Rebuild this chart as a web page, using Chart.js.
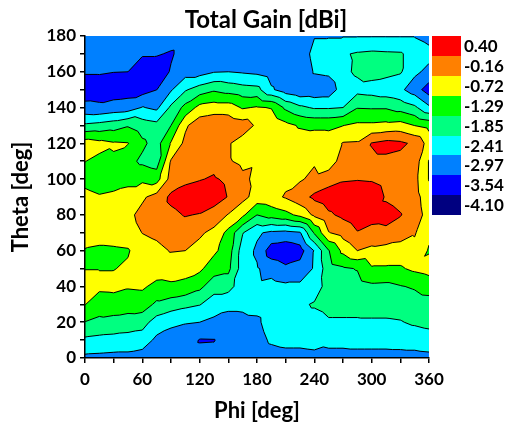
<!DOCTYPE html>
<html>
<head>
<meta charset="utf-8">
<script src="https://cdn.jsdelivr.net/npm/chart.js@4"></script>
<style>
html,body{margin:0;padding:0;background:#fff;}
#wrap{width:508px;height:425px;}
canvas{display:block;}
</style>
</head>
<body>
<div id="wrap"><canvas id="c" width="508" height="425"></canvas></div>
<script>
// ---- data (gain in dBi, rows = theta, columns = phi) ----
const phiValues = [0,15,30,45,60,75,90,105,120,135,150,165,180,195,210,225,240,255,270,285,300,315,330,345,360];
const thetaValues = [0,10,20,30,40,50,60,70,80,90,100,110,120,130,140,150,160,170,180];
const gainRows = [
  [-2.53,-2.55,-2.58,-2.58,-2.67,-2.86,-2.81,-2.78,-2.81,-2.81,-2.86,-2.86,-2.86,-2.75,-2.69,-2.69,-2.64,-2.58,-2.58,-2.58,-2.58,-2.58,-2.58,-2.58,-2.55],
  [-1.96,-2.02,-2.05,-2.08,-2.13,-2.53,-2.64,-2.69,-3.00,-2.99,-2.75,-2.75,-2.69,-2.30,-2.19,-2.19,-2.13,-2.27,-2.27,-2.24,-2.24,-2.24,-2.22,-2.19,-2.13],
  [-1.30,-1.40,-1.46,-1.54,-1.63,-2.10,-2.30,-2.38,-2.41,-2.53,-2.58,-2.55,-2.53,-2.10,-2.08,-2.08,-2.08,-1.91,-1.91,-1.91,-1.91,-1.91,-1.88,-1.77,-1.68],
  [-0.70,-1.06,-1.01,-1.03,-1.01,-1.40,-1.57,-1.71,-1.82,-2.13,-2.30,-2.30,-2.19,-2.08,-2.10,-1.96,-1.79,-1.68,-1.68,-1.68,-1.65,-1.65,-1.63,-1.54,-1.51],
  [-0.44,-0.58,-0.56,-0.67,-0.64,-0.87,-0.81,-0.89,-1.15,-1.63,-1.63,-2.19,-2.30,-2.22,-2.30,-2.30,-2.19,-1.57,-1.54,-1.51,-1.40,-1.43,-1.32,-1.23,-1.06],
  [-0.74,-0.74,-0.74,-0.64,-0.50,-0.44,-0.47,-0.50,-0.61,-1.03,-1.15,-2.13,-2.36,-2.64,-2.86,-2.75,-2.36,-1.51,-1.37,-1.26,-0.78,-0.78,-0.78,-0.61,-0.50],
  [-0.78,-0.84,-0.81,-0.77,-0.39,-0.30,-0.13,-0.16,-0.33,-0.61,-1.01,-2.13,-2.50,-3.26,-3.37,-3.20,-2.38,-1.32,-0.58,-0.16,-0.30,-0.39,-0.44,-0.33,-0.77],
  [-0.28,-0.44,-0.44,-0.39,-0.15,-0.05,0.12,0.12,-0.08,-0.30,-0.89,-1.82,-2.33,-2.53,-2.58,-2.47,-1.23,-0.19,0.06,0.37,0.23,0.29,0.12,-0.11,-0.61],
  [-0.33,-0.39,-0.39,-0.30,0.01,0.12,0.29,0.43,0.37,0.15,-0.19,-0.61,-1.29,-1.06,-0.89,-0.58,-0.05,0.32,0.51,0.68,0.60,0.57,0.43,0.12,-0.39],
  [-0.56,-0.67,-0.61,-0.56,-0.25,0.06,0.51,0.63,0.74,0.68,0.37,0.01,-0.39,-0.33,-0.11,0.18,0.51,0.68,0.74,0.79,0.79,0.34,0.23,0.06,-0.50],
  [-0.89,-1.01,-0.95,-0.84,-0.84,-0.95,0.06,0.29,0.37,0.46,0.29,-0.05,-0.28,-0.25,-0.28,-0.22,-0.02,0.18,0.34,0.37,0.34,0.18,0.06,0.01,-0.75],
  [-0.71,-0.84,-0.78,-1.12,-1.40,-1.57,-0.11,0.06,0.20,0.23,-0.11,-0.28,-0.22,-0.22,-0.33,-0.33,-0.22,-0.50,0.12,0.15,0.29,0.29,0.23,0.12,-0.75],
  [-0.44,-0.56,-0.67,-0.70,-1.18,-1.51,-0.67,-0.02,0.18,0.20,-0.11,-0.39,-0.19,-0.22,-0.39,-0.44,-0.39,-0.44,-0.13,-0.11,0.43,0.57,0.51,0.29,-0.39],
  [-1.74,-1.66,-1.54,-1.34,-1.57,-1.68,-1.29,-0.25,0.18,0.29,0.23,0.12,-0.25,-0.28,-0.56,-0.78,-0.84,-0.84,-0.73,-0.61,-0.61,-0.56,-0.50,-0.73,-0.89],
  [-2.81,-2.86,-2.75,-2.69,-2.38,-2.53,-1.74,-1.12,-0.54,-0.44,-0.44,-0.78,-0.67,-0.75,-1.40,-1.74,-1.91,-1.91,-1.85,-1.32,-1.34,-1.34,-1.51,-1.74,-2.30],
  [-3.26,-3.24,-3.26,-3.23,-3.20,-2.98,-2.47,-1.91,-1.59,-1.37,-1.51,-1.63,-1.68,-2.33,-2.69,-2.86,-2.81,-2.75,-2.13,-2.02,-2.08,-2.19,-2.30,-2.69,-3.26],
  [-2.92,-2.92,-2.96,-2.97,-3.26,-3.31,-2.92,-2.64,-2.64,-2.44,-2.41,-2.47,-2.53,-2.69,-2.81,-2.86,-2.36,-2.30,-1.96,-1.77,-1.63,-1.68,-1.79,-2.30,-2.55],
  [-2.69,-2.69,-2.69,-2.69,-2.92,-2.92,-3.03,-2.75,-2.69,-2.69,-2.64,-2.64,-2.69,-2.69,-2.75,-2.75,-2.24,-2.19,-1.91,-1.79,-1.74,-1.77,-1.79,-2.08,-2.25],
  [-2.69,-2.69,-2.69,-2.69,-2.69,-2.69,-2.69,-2.75,-2.69,-2.69,-2.69,-2.69,-2.69,-2.69,-2.69,-2.69,-2.44,-2.44,-2.44,-2.44,-2.44,-2.44,-2.44,-2.44,-2.58]
];
const levels = [-3.54,-2.97,-2.41,-1.85,-1.29,-0.72,-0.16,0.40];
const bandColors = ['#000080','#0000FF','#0080FF','#00FFFF','#00FF80','#00FF00','#FFFF00','#FF8000','#FF0000'];
const legendLabels = ['-4.10','-3.54','-2.97','-2.41','-1.85','-1.29','-0.72','-0.16','0.40'];
const phiTickLabels = [0,60,120,180,240,300,360];
const thetaTickLabels = [0,20,40,60,80,100,120,140,160,180];
const chartTitle = 'Total Gain [dBi]';

// ---- build the point table for the library ----
const gridPoints = [];
thetaValues.forEach((t, j) => phiValues.forEach((p, i) => gridPoints.push({x: p, y: t, v: gainRows[j][i]})));

function cellIndex(arr, val) {
  let k = 0;
  while (k < arr.length - 2 && val >= arr[k + 1]) k++;
  return k;
}
function bandOf(val) {
  let b = 0;
  for (const L of levels) if (val >= L) b++;
  return b;
}
const bandRGB = bandColors.map(h => [parseInt(h.slice(1,3),16), parseInt(h.slice(3,5),16), parseInt(h.slice(5,7),16)]);

const contourPlugin = {
  id: 'contour',
  beforeDatasetsDraw(chart) {
    const {ctx, chartArea: a} = chart;
    const xs = chart.scales.x, ys = chart.scales.y;
    const pts = chart.data.datasets[0].data;
    const nx = phiValues.length, ny = thetaValues.length;
    const V = (i, j) => pts[j * nx + i].v;
    const left = Math.round(a.left), top = Math.round(a.top);
    const w = Math.round(a.right) - left, h = Math.round(a.bottom) - top;
    const off = document.createElement('canvas');
    off.width = w; off.height = h;
    const octx = off.getContext('2d');
    const img = octx.createImageData(w, h);
    const d = img.data;
    const pMin = phiValues[0], pMax = phiValues[nx - 1];
    const tMin = thetaValues[0], tMax = thetaValues[ny - 1];
    for (let py = 0; py < h; py++) {
      let th = ys.getValueForPixel(top + py + 0.5);
      th = Math.min(Math.max(th, tMin), tMax);
      const j = cellIndex(thetaValues, th);
      const fy = (th - thetaValues[j]) / (thetaValues[j + 1] - thetaValues[j]);
      for (let px = 0; px < w; px++) {
        let ph = xs.getValueForPixel(left + px + 0.5);
        ph = Math.min(Math.max(ph, pMin), pMax);
        const i = cellIndex(phiValues, ph);
        const fx = (ph - phiValues[i]) / (phiValues[i + 1] - phiValues[i]);
        const v00 = V(i, j), v10 = V(i + 1, j), v01 = V(i, j + 1), v11 = V(i + 1, j + 1);
        const val = fx >= fy ? v00 + fx * (v10 - v00) + fy * (v11 - v10)
                             : v00 + fy * (v01 - v00) + fx * (v11 - v01);
        const c = bandRGB[bandOf(val)];
        const o = (py * w + px) * 4;
        d[o] = c[0]; d[o + 1] = c[1]; d[o + 2] = c[2]; d[o + 3] = 255;
      }
    }
    octx.putImageData(img, 0, 0);
    ctx.drawImage(off, left, top);

    // contour lines
    ctx.save();
    ctx.beginPath();
    ctx.rect(a.left, a.top, a.right - a.left, a.bottom - a.top);
    ctx.clip();
    ctx.beginPath();
    ctx.strokeStyle = '#000';
    ctx.lineWidth = 1;
    const P = (i, j) => ({x: phiValues[i], y: thetaValues[j], v: V(i, j)});
    for (let j = 0; j < ny - 1; j++) {
      for (let i = 0; i < nx - 1; i++) {
        const tris = [
          [P(i, j), P(i + 1, j), P(i + 1, j + 1)],
          [P(i, j), P(i, j + 1), P(i + 1, j + 1)]
        ];
        for (const tri of tris) {
          for (const L of levels) {
            const cross = [];
            for (let e = 0; e < 3; e++) {
              const p = tri[e], q = tri[(e + 1) % 3];
              if ((p.v >= L) !== (q.v >= L)) {
                const t = (L - p.v) / (q.v - p.v);
                cross.push([p.x + t * (q.x - p.x), p.y + t * (q.y - p.y)]);
              }
            }
            if (cross.length === 2) {
              ctx.moveTo(xs.getPixelForValue(cross[0][0]), ys.getPixelForValue(cross[0][1]));
              ctx.lineTo(xs.getPixelForValue(cross[1][0]), ys.getPixelForValue(cross[1][1]));
            }
          }
        }
      }
    }
    ctx.stroke();
    ctx.restore();
  },
  afterDraw(chart) {
    const {ctx, chartArea: a} = chart;
    ctx.save();
    ctx.fillStyle = '#000';
    ctx.font = 'bold 24px Lato';
    ctx.textAlign = 'center';
    ctx.textBaseline = 'middle';
    ctx.fillText(chartTitle, 266, 20);
    // colour bar
    const bx = Math.round(a.right) + 3, bw = 29, by = a.top, bh = 19.9;
    for (let k = 0; k < bandColors.length; k++) {
      const band = bandColors.length - 1 - k;
      const y0 = Math.round(by + k * bh), y1 = Math.round(by + (k + 1) * bh);
      ctx.fillStyle = bandColors[band];
      ctx.fillRect(bx, y0, bw, y1 - y0);
      ctx.fillStyle = '#000';
      ctx.font = 'bold 17px Lato';
      ctx.textAlign = 'left';
      ctx.fillText(legendLabels[band], 464, (y0 + y1) / 2 + 1);
    }
    ctx.restore();
  }
};

function makeChart() {
  Chart.defaults.font.family = 'Lato';
  const tickFont = {family: 'Lato', weight: 'bold', size: 17};
  const titleFont = {family: 'Lato', weight: 'bold', size: 22};
  new Chart(document.getElementById('c'), {
    type: 'scatter',
    data: {datasets: [{data: gridPoints, pointRadius: 0, pointHoverRadius: 0, showLine: false}]},
    plugins: [contourPlugin],
    options: {
      responsive: false,
      animation: false,
      devicePixelRatio: 1,
      events: [],
      layout: {padding: {left: 0, top: 36, right: 79, bottom: 0}},
      plugins: {legend: {display: false}, tooltip: {enabled: false}, title: {display: false}},
      scales: {
        x: {
          type: 'linear', min: 0, max: 360, position: 'bottom',
          afterFit(s) { s.height = 67; },
          ticks: {stepSize: 30, autoSkip: false, maxRotation: 0, padding: 6, color: '#000', font: tickFont, z: 1,
                  callback: v => phiTickLabels.includes(v) ? String(v) : ''},
          grid: {drawOnChartArea: false, drawTicks: true, tickLength: 5, color: '#000', lineWidth: 1.5, z: 1},
          border: {display: true, color: '#000', width: 1.5, z: 1},
          title: {display: true, text: 'Phi [deg]', color: '#000', font: titleFont, padding: {top: 0, bottom: 1}}
        },
        y: {
          type: 'linear', min: 0, max: 180, position: 'left',
          afterFit(s) { s.width = 85; },
          ticks: {stepSize: 10, autoSkip: false, padding: 4, color: '#000', font: tickFont, z: 1,
                  callback: v => thetaTickLabels.includes(v) ? String(v) : ''},
          grid: {drawOnChartArea: false, drawTicks: true, tickLength: 5, color: '#000', lineWidth: 1.5, z: 1},
          border: {display: true, color: '#000', width: 1.5, z: 1},
          title: {display: true, text: 'Theta [deg]', color: '#000', font: titleFont, padding: {top: 8, bottom: 0}}
        }
      }
    }
  });
}
if (document.fonts && document.fonts.load) {
  document.fonts.load('bold 17px Lato').then(makeChart, makeChart);
} else {
  makeChart();
}
</script>
</body>
</html>
